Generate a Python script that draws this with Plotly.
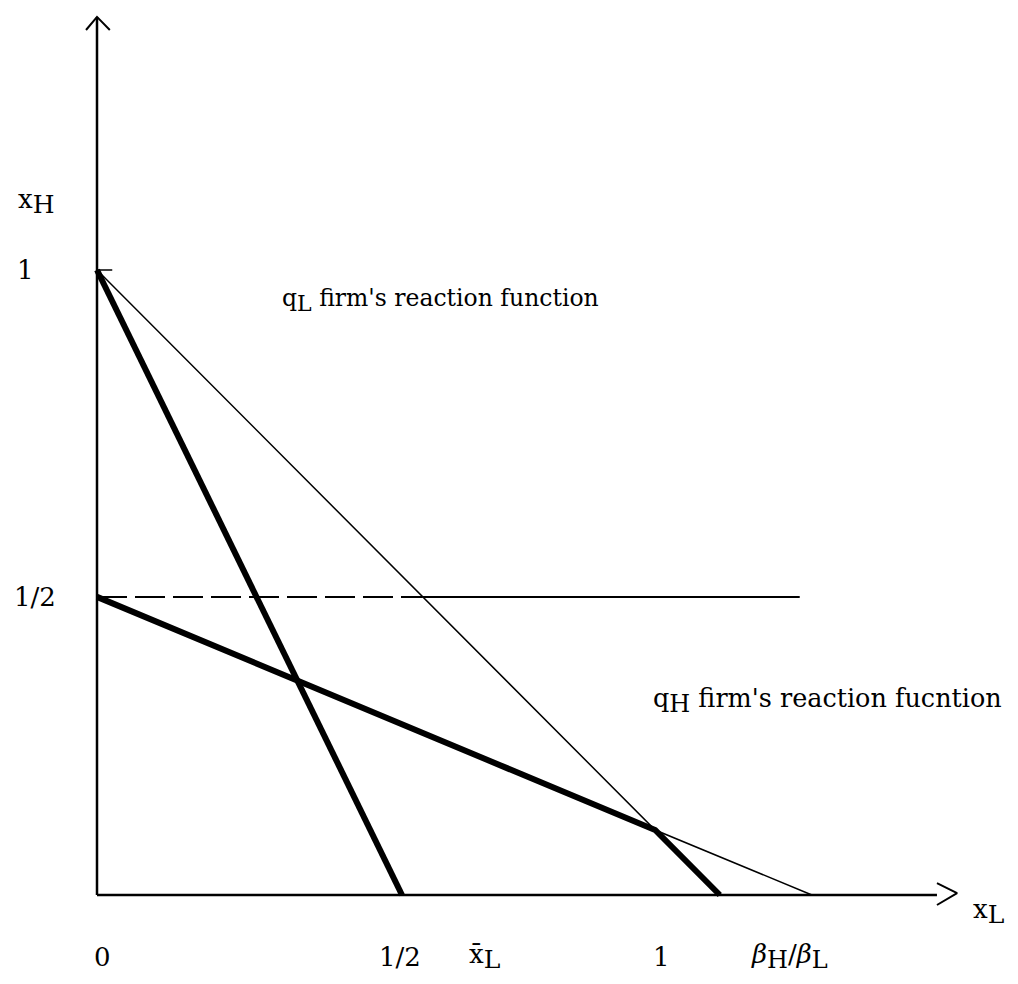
import plotly.graph_objects as go

# ---- data (schematic units) ----
# q_L firm's reaction function (thick, steep): from (0,1) to (1/2,0)
qL_x = [0.0, 0.5]
qL_y = [1.0, 0.0]
# q_H firm's reaction function (thick): kinks at the intersection with the thin line
qH_x = [0.0, 0.915, 1.021]
qH_y = [0.477, 0.104, 0.0]
# thin line: from (0,1) to beta_H/beta_L, kinked at the same point
thin_x = [0.0, 0.915, 1.172]
thin_y = [1.0, 0.104, 0.0]
# horizontal line at x_H = 1/2 (dashed part, then solid part)
half_level = 0.477
dash_x = [0.0, 0.534]
solid_x = [0.534, 1.152]

# tick labels
x_tick_vals = [0.0098, 0.497, 0.636, 0.926, 1.136]
x_tick_text = ["0", "1/2", "x\u0304<sub><span style='font-size:25px'>L</span></sub>", "1",
               "<i>β</i><sub><span style='font-size:24px'>H</span></sub>/<i>β</i><sub><span style='font-size:24px'>L</span></sub>"]
y_tick_vals = [1.0, 0.477]
y_tick_text = ["1", "1/2"]
y_tick_x = [-0.118, -0.102]

FONT = "DejaVu Serif"

fig = go.Figure()

# axes with arrows
fig.add_trace(go.Scatter(x=[0, 0], y=[0, 1.405], mode="lines",
                         line=dict(color="black", width=2.5), hoverinfo="skip"))
fig.add_trace(go.Scatter(x=[0, 1.377], y=[0, 0], mode="lines",
                         line=dict(color="black", width=2.5), hoverinfo="skip"))
fig.add_trace(go.Scatter(x=[-0.018, 0, 0.021], y=[1.384, 1.405, 1.384], mode="lines",
                         line=dict(color="black", width=2), hoverinfo="skip"))
fig.add_trace(go.Scatter(x=[1.377, 1.410, 1.377], y=[0.019, 0.003, -0.016], mode="lines",
                         line=dict(color="black", width=2), hoverinfo="skip"))
# small tick at y = 1
fig.add_trace(go.Scatter(x=[0, 0.025], y=[1.0, 1.0], mode="lines",
                         line=dict(color="black", width=1.5), hoverinfo="skip"))

# horizontal 1/2 line
fig.add_trace(go.Scatter(x=dash_x, y=[half_level, half_level], mode="lines",
                         line=dict(color="black", width=2, dash="30px,8px"), hoverinfo="skip"))
fig.add_trace(go.Scatter(x=solid_x, y=[half_level, half_level], mode="lines",
                         line=dict(color="black", width=2), hoverinfo="skip"))

# thin line
fig.add_trace(go.Scatter(x=thin_x, y=thin_y, mode="lines",
                         line=dict(color="black", width=1.5), hoverinfo="skip"))
# thick reaction functions
fig.add_trace(go.Scatter(x=qL_x, y=qL_y, mode="lines",
                         line=dict(color="black", width=6), hoverinfo="skip"))
fig.add_trace(go.Scatter(x=qH_x, y=qH_y, mode="lines",
                         line=dict(color="black", width=6), hoverinfo="skip"))

ann = []
for xv, t in zip(x_tick_vals, x_tick_text):
    ann.append(dict(x=xv, y=-0.099, text=t, showarrow=False, xanchor="center", yanchor="middle",
                    font=dict(family=FONT, size=26, color="black")))
for xv, yv, t in zip(y_tick_x, y_tick_vals, y_tick_text):
    ann.append(dict(x=xv, y=yv, text=t, showarrow=False, xanchor="center", yanchor="middle",
                    font=dict(family=FONT, size=26, color="black")))
# axis titles
ann.append(dict(x=-0.100, y=1.109, text="x<sub><span style='font-size:25px'>H</span></sub>",
                showarrow=False, xanchor="center", yanchor="middle",
                font=dict(family=FONT, size=26, color="black")))
ann.append(dict(x=1.462, y=-0.027, text="x<sub><span style='font-size:25px'>L</span></sub>",
                showarrow=False, xanchor="center", yanchor="middle",
                font=dict(family=FONT, size=26, color="black")))
# curve labels
ann.append(dict(x=0.300, y=0.952,
                text="q<sub><span style='font-size:22px'>L</span></sub> firm's reaction function",
                showarrow=False, xanchor="left", yanchor="middle",
                font=dict(family=FONT, size=23.5, color="black")))
ann.append(dict(x=0.909, y=0.312,
                text="q<sub><span style='font-size:24px'>H</span></sub> firm's reaction fucntion",
                showarrow=False, xanchor="left", yanchor="middle",
                font=dict(family=FONT, size=25.5, color="black")))

# page body has an 8px margin: figure is sized to fit the window
fig.update_layout(
    width=1002, height=968,
    margin=dict(l=0, r=0, t=0, b=0),
    paper_bgcolor="white", plot_bgcolor="white",
    showlegend=False,
    xaxis=dict(range=[-89 / 610, 913 / 610], visible=False, fixedrange=True),
    yaxis=dict(range=[-81 / 625, 887 / 625], visible=False, fixedrange=True),
    annotations=ann,
)

fig.write_html("out.html")
